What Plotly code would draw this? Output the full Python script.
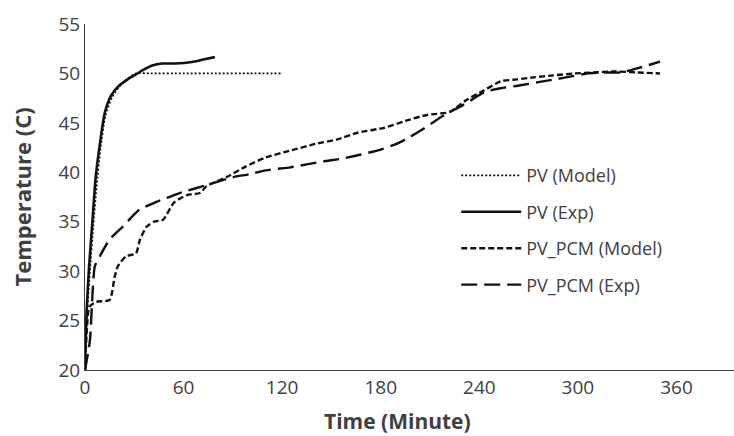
import plotly.graph_objects as go

# ---- data ----
pv_model_t = [0, 1, 3, 5, 7, 9.5, 12.5, 16.5, 21, 26, 31, 40, 60, 80, 100, 120]
pv_model_T = [20, 25, 30, 34.5, 38.5, 42.5, 45.8, 47.6, 48.7, 49.5, 50, 50, 50, 50, 50, 50]

pv_exp_t = [0, 1, 2.5, 4.5, 6.5, 9, 12, 16, 21, 26, 31, 36, 41, 47, 55, 65, 72, 79]
pv_exp_T = [20, 26, 30.5, 35, 39.5, 42.8, 46, 47.8, 48.8, 49.4, 49.9, 50.4, 50.8, 51, 51, 51.15, 51.4, 51.65]

pcm_model_t = [0, 1, 2.7, 7, 15, 18, 20, 25, 31, 33.5, 37.5, 42, 47.5, 54, 62, 70, 74, 86, 98,
               110, 125, 141, 153, 166, 182, 195, 208, 222, 232, 243, 253, 263, 273, 285, 298,
               310, 322, 336, 350]
pcm_model_T = [20, 23.7, 26.4, 26.9, 27.1, 29.4, 30.5, 31.5, 31.8, 33.2, 34.5, 35.0, 35.2, 36.9,
               37.7, 37.9, 38.6, 39.5, 40.6, 41.5, 42.2, 42.9, 43.3, 44.0, 44.5, 45.2, 45.8, 46.1,
               47.3, 48.3, 49.2, 49.4, 49.6, 49.8, 50.0, 50.1, 50.2, 50.1, 50.0]

pcm_exp_t = [0, 3, 4.5, 6, 9, 15, 23, 33, 43.5, 57.7, 74, 90, 100, 110, 125, 135, 145, 157, 168,
             180, 190, 198, 206, 214, 222, 228, 235, 243, 253, 265, 275, 286, 296, 306, 316, 326,
             338, 350]
pcm_exp_T = [20, 23, 27.5, 30.5, 31.5, 33.2, 34.5, 36.2, 37.0, 37.9, 38.7, 39.5, 39.8, 40.2, 40.5,
             40.8, 41.1, 41.4, 41.8, 42.3, 42.9, 43.6, 44.4, 45.3, 46.1, 46.6, 47.3, 48.1, 48.5,
             48.8, 49.1, 49.4, 49.7, 50.0, 50.1, 50.1, 50.6, 51.2]

x_ticks = [0, 60, 120, 180, 240, 300, 360]
y_ticks = [20, 25, 30, 35, 40, 45, 50, 55]
x_title = "Time (Minute)"
y_title = "Temperature (C)"

FONT = "Open Sans"
INK = "#111111"
TXT = "#404040"

fig = go.Figure()
series = [
    ("PV (Model)", pv_model_t, pv_model_T, dict(color=INK, width=1.8, dash="2px,2px")),
    ("PV (Exp)", pv_exp_t, pv_exp_T, dict(color=INK, width=2.6, dash="solid")),
    ("PV_PCM (Model)", pcm_model_t, pcm_model_T, dict(color=INK, width=2.4, dash="6px,3px")),
    ("PV_PCM (Exp)", pcm_exp_t, pcm_exp_T, dict(color=INK, width=2.4, dash="16px,7px")),
]
for i, (name, t, T, ln) in enumerate(series):
    fig.add_trace(go.Scatter(x=t, y=T, mode="lines", name=name,
                             line=dict(shape="spline", smoothing=0.6, **ln),
                             legendgroup=f"g{i}"))

fig.update_layout(
    width=734, height=436,
    margin=dict(l=85, r=0, t=24, b=66),
    paper_bgcolor="white", plot_bgcolor="white",
    font=dict(family=FONT, color=TXT, size=16),
    showlegend=True,
    legend=dict(x=0.572, y=0.615, xanchor="left", yanchor="top", bgcolor="rgba(0,0,0,0)",
                font=dict(size=18, color=TXT), traceorder="grouped", tracegroupgap=10,
                itemwidth=60),
    annotations=[dict(text=f"<b>{x_title}</b>", xref="paper", yref="paper",
                      x=0.481, y=-0.147, xanchor="center", yanchor="middle", showarrow=False,
                      font=dict(size=21, color=TXT))],
)
fig.update_xaxes(range=[0, 395], tickvals=x_ticks, ticktext=[str(v) for v in x_ticks],
                 showgrid=False, zeroline=False, showline=True, linecolor="#404040", linewidth=1,
                 ticks="", tickfont=dict(size=19, color=TXT))
fig.update_yaxes(range=[20, 55], tickvals=y_ticks, ticktext=[str(v) for v in y_ticks],
                 showgrid=False, zeroline=False, showline=True, linecolor="#404040", linewidth=1,
                 ticks="", tickfont=dict(size=19, color=TXT),
                 title=dict(text=f"<b>{y_title}</b>", font=dict(size=22, color=TXT), standoff=20))

fig.write_html("out.html")
